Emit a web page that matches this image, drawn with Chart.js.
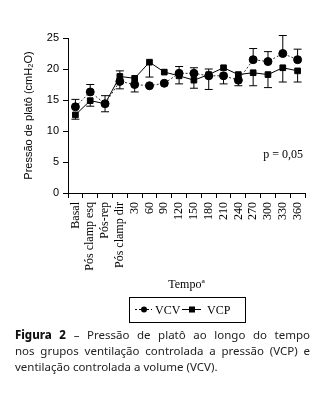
<!DOCTYPE html>
<html>
<head>
<meta charset="utf-8">
<script src="https://cdn.jsdelivr.net/npm/chart.js@4"></script>
<style>
  body { margin: 0; background: #fff; width: 323px; height: 406px; position: relative; overflow: hidden; }
  #wrap { position: absolute; left: 0; top: 0; width: 323px; height: 330px; }
  #caption {
    position: absolute; left: 15px; top: 327px; width: 295px;
    font-family: "Noto Sans", sans-serif; font-size: 11.5px; line-height: 16px; color: #222;
  }
  #caption .j { text-align: justify; text-align-last: justify; }
  #caption b { font-weight: 800; color: #111; }
</style>
</head>
<body>
<div id="wrap"><canvas id="chart"></canvas></div>
<div id="caption">
  <div class="j"><b>Figura 2</b> – Pressão de platô ao longo do tempo</div>
  <div class="j">nos grupos ventilação controlada a pressão (VCP) e</div>
  <div>ventilação controlada a volume (VCV).</div>
</div>
<script>
const labels = ['Basal', 'Pós clamp esq', 'Pós-rep', 'Pós clamp dir', '30', '60', '90', '120',
  '150', '180', '210', '240', '270', '300', '330', '360'];
const vcv = [13.9, 16.3, 14.4, 18.0, 17.5, 17.3, 17.7, 19.3, 19.3, 18.9, 18.9, 18.2, 21.5, 21.2, 22.5, 21.5];
const vcp = [12.6, 14.9, 14.4, 18.8, 18.5, 21.1, 19.5, 18.9, 18.2, 19.1, 20.2, 19.1, 19.4, 19.1, 20.2, 19.7];
// one-sided error bars as drawn in the figure
const vcvUp   = [1.2, 1.2, 1.3, 0, 0, 0, 0, 1.1, 0.9, 0, 0, 0, 1.8, 1.6, 2.9, 1.7];
const vcvDown = [0, 0, 0, 1.2, 1.2, 0, 0, 0, 0, 2.2, 1.3, 0.9, 0, 0, 0, 0];
const vcpUp   = [0, 0, 0, 0.9, 0, 0, 0, 0, 0, 0.9, 0, 0, 0, 0, 0, 0];
const vcpDown = [0.7, 0.9, 1.3, 0, 0, 2.4, 0, 1.3, 1.3, 0, 0, 0, 2.1, 2.1, 2.3, 1.8];
const yTicks = [0, 5, 10, 15, 20, 25];

const errorBars = {
  id: 'errorBars',
  afterDatasetsDraw(chart) {
    const ctx = chart.ctx;
    const y = chart.scales.y;
    ctx.save();
    ctx.strokeStyle = '#000';
    ctx.lineWidth = 1;
    chart.data.datasets.forEach((ds, i) => {
      const meta = chart.getDatasetMeta(i);
      meta.data.forEach((pt, j) => {
        [[ds.errUp[j], 1], [ds.errDown[j], -1]].forEach(([e, s]) => {
          if (!e) return;
          const y0 = y.getPixelForValue(ds.data[j]);
          const y1 = y.getPixelForValue(ds.data[j] + s * e);
          ctx.beginPath();
          ctx.moveTo(pt.x, y0); ctx.lineTo(pt.x, y1);
          ctx.moveTo(pt.x - 4, y1); ctx.lineTo(pt.x + 4, y1);
          ctx.stroke();
        });
      });
    });
    ctx.restore();
  }
};

const extras = {
  id: 'extras',
  afterDraw(chart) {
    const ctx = chart.ctx;
    const a = chart.chartArea;
    ctx.save();
    ctx.fillStyle = '#000';
    ctx.font = '12px "Liberation Serif", serif';
    ctx.textAlign = 'right';
    ctx.textBaseline = 'middle';
    ctx.fillText('p = 0,05', a.right - 2, chart.scales.y.getPixelForValue(6.1));

    // legend box
    const bx = 129, by = 297, bw = 116, bh = 25, cy = by + bh / 2;
    ctx.lineWidth = 1;
    ctx.strokeStyle = '#000';
    ctx.strokeRect(bx + 0.5, by + 0.5, bw, bh);
    ctx.beginPath();
    ctx.setLineDash([2, 2]);
    ctx.moveTo(135, cy); ctx.lineTo(152, cy);
    ctx.stroke();
    ctx.setLineDash([]);
    ctx.beginPath(); ctx.arc(144, cy, 3, 0, Math.PI * 2); ctx.fill();
    ctx.beginPath();
    ctx.moveTo(182, cy); ctx.lineTo(201, cy);
    ctx.stroke();
    ctx.fillRect(189, cy - 3, 6, 6);
    ctx.textAlign = 'left';
    ctx.font = '12px "Liberation Serif", serif';
    ctx.fillText('VCV', 155, cy + 1);
    ctx.fillText('VCP', 207, cy + 1);
    ctx.restore();
  }
};

new Chart(document.getElementById('chart'), {
  type: 'line',
  data: {
    labels: labels,
    datasets: [
      {
        label: 'VCV', data: vcv, errUp: vcvUp, errDown: vcvDown,
        borderColor: '#333', borderWidth: 1, borderDash: [2, 2],
        pointStyle: 'circle', pointRadius: 4, pointBackgroundColor: '#000', pointBorderColor: '#000'
      },
      {
        label: 'VCP', data: vcp, errUp: vcpUp, errDown: vcpDown,
        borderColor: '#000', borderWidth: 1,
        pointStyle: 'rect', pointRadius: 4, pointBackgroundColor: '#000', pointBorderColor: '#000'
      }
    ]
  },
  options: {
    responsive: true,
    maintainAspectRatio: false,
    animation: false,
    layout: { padding: { top: 38, right: 18, left: 0, bottom: 0 } },
    plugins: { legend: { display: false }, tooltip: { enabled: false } },
    scales: {
      x: {
        offset: true,
        afterFit(scale) { scale.height = 137; },
        grid: { offset: true, drawOnChartArea: false, tickLength: 5, color: '#000' },
        border: { color: '#000', width: 1 },
        ticks: {
          color: '#000', minRotation: 90, maxRotation: 90, padding: 4, autoSkip: false,
          font: { family: '"Liberation Serif", serif', size: 12 }
        },
        title: {
          display: true, text: 'Tempoª', color: '#000',
          font: { family: '"Liberation Serif", serif', size: 12 },
          padding: { top: 0, bottom: 38 }
        }
      },
      y: {
        min: 0, max: 25,
        afterFit(scale) { scale.width = 68; },
        afterBuildTicks(scale) { scale.ticks = yTicks.map(v => ({ value: v })); },
        grid: { drawOnChartArea: false, tickLength: 5, color: '#000' },
        border: { color: '#000', width: 1 },
        ticks: {
          color: '#000', padding: 4,
          font: { family: '"Liberation Sans", sans-serif', size: 11 }
        },
        title: {
          display: true, text: 'Pressão de platô (cmH₂O)', color: '#000',
          font: { family: '"Liberation Sans", sans-serif', size: 11 },
          padding: { top: 22, bottom: 0 }
        }
      }
    }
  },
  plugins: [errorBars, extras]
});
</script>
</body>
</html>
